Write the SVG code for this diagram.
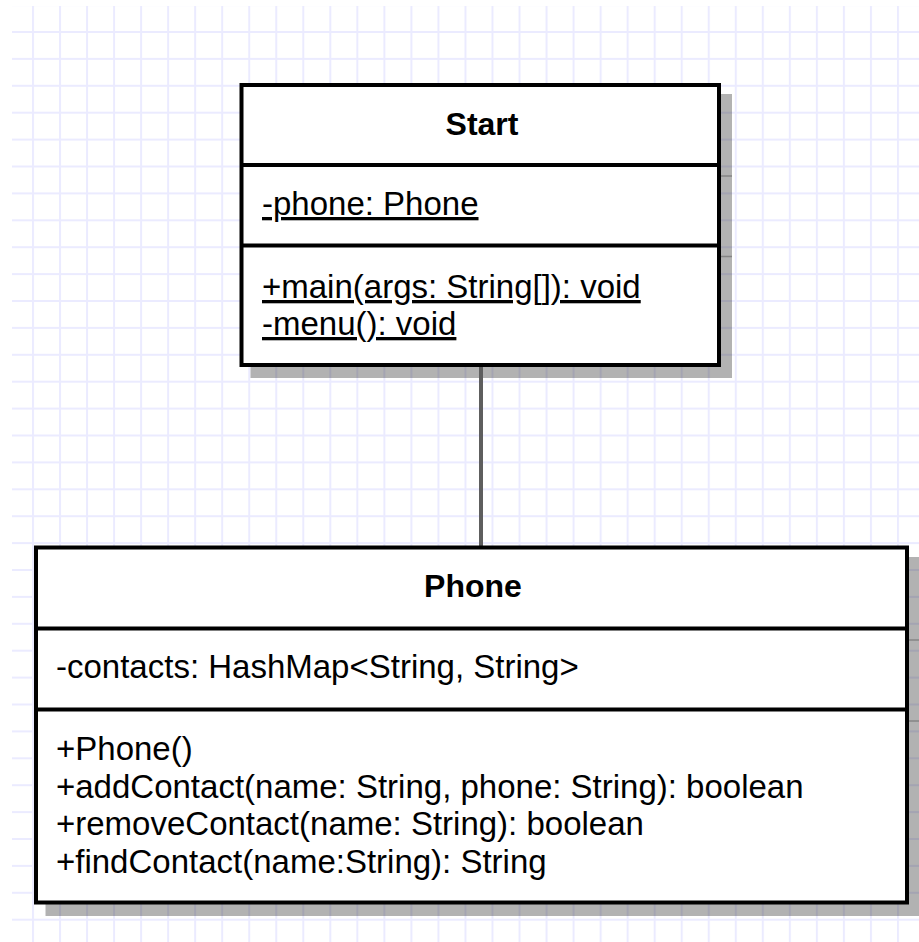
<svg xmlns="http://www.w3.org/2000/svg" width="919" height="942" viewBox="0 0 919 942">
  <style>
    .box { fill: #ffffff; stroke: #000000; stroke-width: 4; }
    .div { stroke: #000000; stroke-width: 4; }
    .shadow { fill: #000000; fill-opacity: 0.3; }
    .shline { stroke: #000000; stroke-opacity: 0.25; stroke-width: 1.5; }
    .title { font-family: "Liberation Sans", Arial, sans-serif; font-size: 32px; font-weight: bold; fill: #000; text-anchor: middle; }
    .txt { font-family: "Liberation Sans", Arial, sans-serif; font-size: 33px; fill: #000; }
    .ul { text-decoration: underline; text-decoration-skip-ink: none; }
    .conn { stroke: #5e5e5e; stroke-width: 4; fill: none; }
  </style>
  <defs>
    <pattern id="grid" patternUnits="userSpaceOnUse" x="32" y="31" width="27.03" height="26.9">
      <rect x="0" y="0" width="2" height="26.9" fill="#ebebff"/>
      <rect x="0" y="0" width="27.03" height="2" fill="#ebebff"/>
    </pattern>
  </defs>
  <rect x="0" y="0" width="919" height="942" fill="#ffffff"/>
  <rect x="12" y="6" width="907" height="936" fill="url(#grid)"/>

  <!-- shadows -->
  <g id="shadows">
    <rect class="shadow" x="250.5" y="94" width="481.5" height="284"/>
    <line class="shline" x1="720" y1="176" x2="732" y2="176"/>
    <line class="shline" x1="720" y1="256.5" x2="732" y2="256.5"/>
    <rect class="shadow" x="45.5" y="557" width="875" height="359"/>
    <line class="shline" x1="908" y1="640" x2="919" y2="640"/>
    <line class="shline" x1="908" y1="721" x2="919" y2="721"/>
  </g>

  <g id="connectors">
    <line class="conn" x1="481" y1="367" x2="481" y2="546"/>
  </g>

  <g id="Start">
    <rect class="box" x="241.5" y="85" width="477.5" height="280"/>
    <line class="div" x1="241.5" y1="165" x2="719" y2="165"/>
    <line class="div" x1="241.5" y1="245.5" x2="719" y2="245.5"/>
    <text class="title" x="482" y="135">Start</text>
    <text class="txt ul" x="262" y="215">-phone: Phone</text>
    <text class="txt ul" x="262" y="298">+main(args: String[]): void</text>
    <text class="txt ul" x="262" y="335">-menu(): void</text>
  </g>

  <g id="Phone">
    <rect class="box" x="36" y="547.5" width="871" height="355"/>
    <line class="div" x1="36" y1="628.5" x2="907" y2="628.5"/>
    <line class="div" x1="36" y1="709.5" x2="907" y2="709.5"/>
    <text class="title" x="473" y="597">Phone</text>
    <text class="txt" x="56" y="678">-contacts: HashMap&lt;String, String&gt;</text>
    <text class="txt" x="56" y="760">+Phone()</text>
    <text class="txt" x="56" y="797.5">+addContact(name: String, phone: String): boolean</text>
    <text class="txt" x="56" y="835">+removeContact(name: String): boolean</text>
    <text class="txt" x="56" y="872.5">+findContact(name:String): String</text>
  </g>
</svg>
